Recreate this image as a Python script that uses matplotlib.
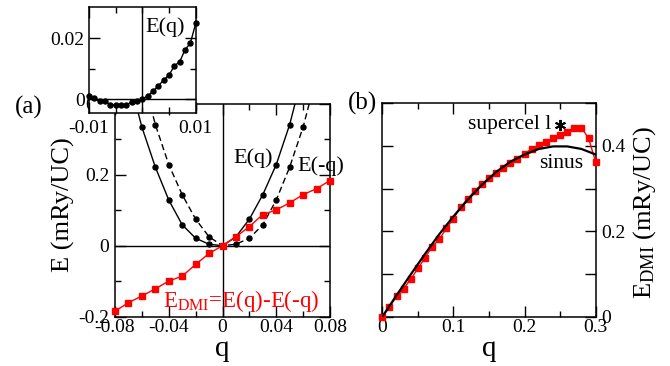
import numpy as np
import matplotlib
matplotlib.use("Agg")
import matplotlib.pyplot as plt
from matplotlib.ticker import MultipleLocator, FixedLocator, FuncFormatter

plt.rcParams['font.family'] = ['Liberation Serif', 'DejaVu Serif']
plt.rcParams['mathtext.fontset'] = 'custom'
plt.rcParams['mathtext.rm'] = 'Liberation Serif'
plt.rcParams['mathtext.it'] = 'Liberation Serif:italic'
plt.rcParams['axes.unicode_minus'] = False

# ---------------- data ----------------
# panel (a): E(q) (E(-q) is the same curve mirrored)
q_a = [-0.07, -0.06, -0.05, -0.04, -0.03, -0.02, -0.01, 0.0,
       0.01, 0.02, 0.03, 0.04, 0.05, 0.06]
E_q = [0.48, 0.335, 0.222, 0.129, 0.059, 0.021, 0.004, 0.0,
       0.025, 0.075, 0.144, 0.229, 0.342, 0.49]
q_minus = [-v for v in q_a]

# panel (a): E_DMI = E(q) - E(-q)
q_dmi = [-0.08, -0.07, -0.06, -0.05, -0.04, -0.03, -0.02, -0.01, 0.0,
         0.01, 0.02, 0.03, 0.04, 0.05, 0.06, 0.07, 0.08]
E_dmi = [-0.185, -0.161, -0.142, -0.122, -0.100, -0.086, -0.053, -0.022, 0.0,
         0.025, 0.054, 0.088, 0.101, 0.121, 0.144, 0.161, 0.184]

# inset: E(q) near q = 0
q_in = [-0.010, -0.009, -0.008, -0.007, -0.006, -0.005, -0.004, -0.003,
        -0.002, -0.001, 0.0, 0.001, 0.002, 0.003, 0.004, 0.005, 0.006,
        0.007, 0.008, 0.009, 0.010]
E_in = [0.0010, 0.0002, -0.0007, -0.0007, -0.0019, -0.0020, -0.0020, -0.0020,
        -0.0009, -0.0007, 0.0, 0.0010, 0.0026, 0.0043, 0.0063, 0.0079, 0.0109,
        0.0123, 0.0162, 0.0184, 0.0249]

# panel (b): supercell E_DMI
q_b = [0.00, 0.01, 0.02, 0.03, 0.04, 0.05, 0.06, 0.07, 0.08, 0.09, 0.10,
       0.11, 0.12, 0.13, 0.14, 0.15, 0.16, 0.17, 0.18, 0.19, 0.20,
       0.21, 0.22, 0.23, 0.24, 0.25, 0.26, 0.27, 0.28, 0.29, 0.30]
E_b = [0.000, 0.022, 0.048, 0.066, 0.088, 0.113, 0.138, 0.164, 0.181, 0.207, 0.230,
       0.256, 0.276, 0.295, 0.311, 0.324, 0.336, 0.348, 0.359, 0.369, 0.382,
       0.393, 0.402, 0.409, 0.418, 0.426, 0.433, 0.441, 0.443, 0.418, 0.362]

# panel (b): sinus curve
q_sin = [0.00, 0.02, 0.04, 0.06, 0.08, 0.10, 0.12, 0.14, 0.16, 0.18,
         0.20, 0.22, 0.24, 0.26, 0.28, 0.30]
E_sin = [0.000, 0.050, 0.099, 0.147, 0.193, 0.235, 0.274, 0.309, 0.339, 0.363,
         0.380, 0.393, 0.399, 0.399, 0.393, 0.380]

# panel (b): single supercell star
star_q = [0.25]
star_E = [0.449]

RED = '#ff0000'
W, H = 670.0, 366.0


def frame(ax, lw=1.1):
    for s in ax.spines.values():
        s.set_linewidth(lw)
    ax.tick_params(which='both', direction='in', top=True, right=True,
                   labelsize=14, width=1.0)
    ax.tick_params(which='major', length=8)
    ax.tick_params(which='minor', length=4)


fig = plt.figure(figsize=(6.7, 3.66), dpi=100)

# ---------------- panel (a) ----------------
ax = fig.add_axes([115 / W, 1 - 316.5 / H, 215 / W, 212.5 / H])
frame(ax)
ax.set_xlim(-0.08, 0.08)
ax.set_ylim(-0.2, 0.4)
ax.axhline(0, color='black', lw=1.0, zorder=1)
ax.axvline(0, color='black', lw=1.0, zorder=1)
ax.plot(q_a, E_q, '-', color='black', lw=1.0, marker='o', ms=3.6, zorder=3)
ax.plot(q_minus, E_q, '--', color='black', lw=1.0, marker='o', ms=3.6,
        dashes=(4.5, 2.5), zorder=3)
ax.plot(q_dmi, E_dmi, '-', color=RED, lw=1.0, marker='s', ms=4.8,
        clip_on=False, zorder=4)
ax.xaxis.set_major_locator(FixedLocator([-0.08, -0.04, 0, 0.04, 0.08]))
ax.xaxis.set_minor_locator(MultipleLocator(0.02))
ax.yaxis.set_major_locator(FixedLocator([-0.2, 0, 0.2, 0.4]))
ax.yaxis.set_minor_locator(MultipleLocator(0.1))
ax.xaxis.set_major_formatter(FuncFormatter(lambda v, p: '0' if abs(v) < 1e-9 else f'{v:g}'))
ax.yaxis.set_major_formatter(FuncFormatter(lambda v, p: '0' if abs(v) < 1e-9 else f'{v:g}'))
ax.tick_params(axis='x', which='major', pad=2)
ax.tick_params(axis='y', which='major', pad=4)

ax.text(0.0082, 0.233, 'E(q)', fontsize=16, ha='left', va='baseline')
ax.text(0.0555, 0.212, 'E(-q)', fontsize=16, ha='left', va='baseline',
        clip_on=False)
ax.text(-0.0443, -0.173, r'E$_{\mathrm{DMI}}$=E(q)-E(-q)', color=RED,
        fontsize=16.5, ha='left', va='baseline')

ax.set_xlabel('q', fontsize=21)
ax.xaxis.label.set_va('baseline')
ax.xaxis.set_label_coords(0.5, -0.186)
ax.set_ylabel('E (mRy/UC)', fontsize=19)
ax.yaxis.label.set_va('center')
ax.yaxis.label.set_ha('center')
ax.yaxis.set_label_coords(-0.242, 0.525)

fig.text(15 / W, 1 - 107 / H, '(a)', fontsize=18, ha='left', va='center')

# ---------------- inset ----------------
axi = fig.add_axes([89 / W, 1 - 113 / H, 106.7 / W, 106 / H])
axi.set_zorder(5)
axi.set_facecolor('white')
frame(axi)
axi.set_xlim(-0.01, 0.01)
axi.set_ylim(-0.0046, 0.0303)
axi.axhline(0, color='black', lw=1.0, zorder=1)
axi.axvline(0, color='black', lw=1.0, zorder=1)
axi.plot(q_in, E_in, '-', color='black', lw=1.0, marker='o', ms=3.6,
         clip_on=False, zorder=3)
axi.xaxis.set_major_locator(FixedLocator([-0.01, 0.01]))
axi.xaxis.set_minor_locator(FixedLocator([-0.005, 0.0, 0.005]))
axi.yaxis.set_major_locator(FixedLocator([0, 0.02]))
axi.yaxis.set_minor_locator(FixedLocator([0.01]))
axi.xaxis.set_major_formatter(FuncFormatter(lambda v, p: f'{v:g}'))
axi.yaxis.set_major_formatter(FuncFormatter(lambda v, p: '0' if abs(v) < 1e-9 else f'{v:g}'))
axi.tick_params(axis='x', which='major', pad=5)
axi.tick_params(axis='y', which='major', pad=3)
axi.text(0.00064, 0.0222, 'E(q)', fontsize=16, ha='left', va='baseline')

# ---------------- panel (b) ----------------
axb = fig.add_axes([382.3 / W, 1 - 316.7 / H, 213.4 / W, 213.4 / H])
frame(axb)
axb.set_xlim(0, 0.3)
axb.set_ylim(0, 0.5)
axb.plot(q_b, E_b, '-', color=RED, lw=1.0, marker='s', ms=4.8,
         clip_on=False, zorder=3)
axb.plot(q_sin, E_sin, '-', color='black', lw=1.6, zorder=4)
axb.plot(star_q, star_E, linestyle='none', marker=(6, 2, 0), ms=8, mew=1.4,
         color='black', zorder=5)
axb.xaxis.set_major_locator(MultipleLocator(0.1))
axb.xaxis.set_minor_locator(MultipleLocator(0.05))
axb.yaxis.set_major_locator(MultipleLocator(0.1))
axb.yaxis.set_minor_locator(FixedLocator([]))
axb.tick_params(axis='y', which='major', length=8, labelleft=False,
                labelright=True, pad=4)
axb.tick_params(axis='x', which='major', pad=2)
axb.xaxis.set_major_formatter(FuncFormatter(lambda v, p: '0' if abs(v) < 1e-9 else f'{v:.1f}'))
axb.yaxis.set_major_formatter(FuncFormatter(
    lambda v, p: ('0' if abs(v) < 1e-9 else f'{v:.1f}') if abs(round(v * 10) % 2) == 0 else ''))

axb.text(0.1205, 0.439, 'supercel l', fontsize=15.5, ha='left', va='baseline')
axb.text(0.2204, 0.3475, 'sinus', fontsize=15.5, ha='left', va='baseline')

axb.set_xlabel('q', fontsize=21)
axb.xaxis.label.set_va('baseline')
axb.xaxis.set_label_coords(0.5, -0.184)
axb.yaxis.set_label_position('right')
axb.set_ylabel(r'E$_{\mathrm{DMI}}$ (mRy/UC)', fontsize=19, rotation=90)
axb.yaxis.label.set_va('center')
axb.yaxis.label.set_ha('center')
axb.yaxis.set_label_coords(1.228, 0.49)

fig.text(348 / W, 1 - 103 / H, '(b)', fontsize=18, ha='left', va='center')

fig.savefig('out.png', dpi=100)
